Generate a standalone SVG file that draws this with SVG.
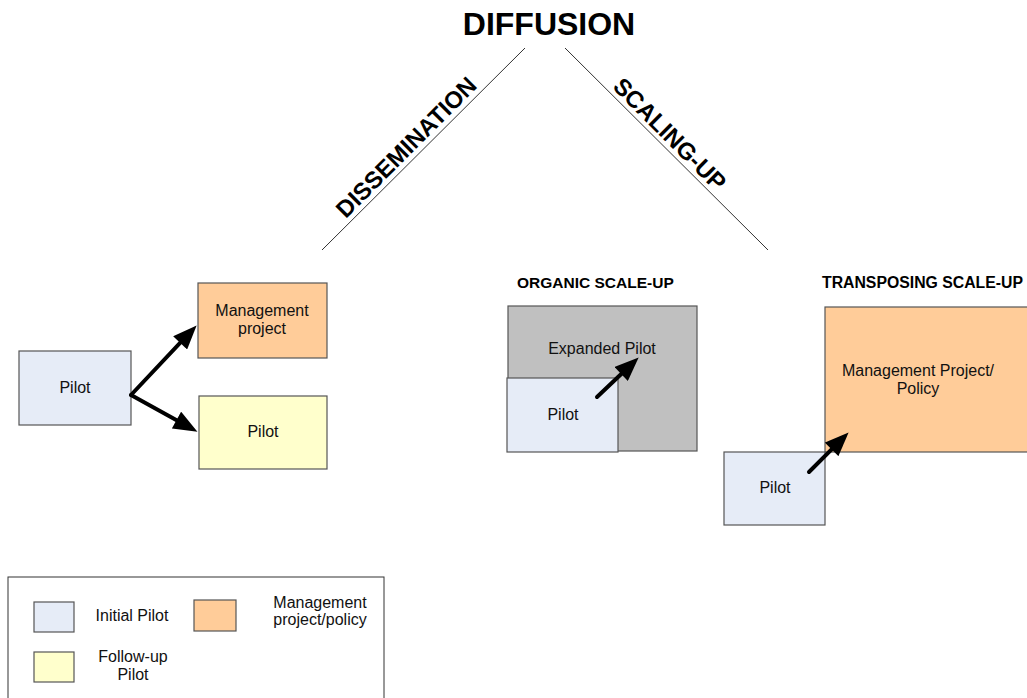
<svg xmlns="http://www.w3.org/2000/svg" width="1027" height="698" viewBox="0 0 1027 698">
<style>
.t{font-family:"Liberation Sans",Arial,sans-serif;font-size:16px;fill:#111;text-anchor:middle}
.b{font-family:"Liberation Sans",Arial,sans-serif;font-weight:bold;fill:#000}
.box{stroke:#555;stroke-width:1.2}
.blue{fill:#E6ECF7}.orange{fill:#FFCC99}.yellow{fill:#FFFFCC}.grey{fill:#C0C0C0}
.arr{stroke:#000;stroke-width:4;fill:none;stroke-linecap:round;marker-end:url(#ah)}
.thin{stroke:#333;stroke-width:1;fill:none}
</style>
<defs>
<marker id="ah" viewBox="0 0 10 8" markerWidth="6.2" markerHeight="4.8" refX="4.4" refY="4" orient="auto" markerUnits="strokeWidth">
<path d="M0,0 L10,4 L0,8 z" fill="#000"/>
</marker>
</defs>
<rect width="1027" height="698" fill="#fff"/>
<g id="title">
<text class="b" x="549" y="35" font-size="32" text-anchor="middle">DIFFUSION</text>
<line class="thin" x1="525" y1="48" x2="322" y2="250"/>
<line class="thin" x1="565" y1="48" x2="768" y2="250"/>
<text class="b" x="412" y="153" font-size="23.8" text-anchor="middle" transform="rotate(-45 412 153)">DISSEMINATION</text>
<text class="b" x="664" y="140" font-size="23.8" text-anchor="middle" transform="rotate(45 664 140)">SCALING-UP</text>
</g>
<g id="pilot-left"><rect class="box blue" x="19" y="351" width="112" height="74"/><text class="t" x="75" y="393">Pilot</text></g>
<g id="mgmt-left"><rect class="box orange" x="198" y="283" width="129" height="75"/><text class="t" x="262" y="316">Management</text><text class="t" x="262" y="334">project</text></g>
<g id="pilot-follow"><rect class="box yellow" x="199" y="396" width="128" height="73"/><text class="t" x="263" y="437">Pilot</text></g>
<g id="organic">
<text class="b" x="517" y="288" font-size="15.5">ORGANIC SCALE-UP</text>
<g id="expanded"><rect class="box grey" x="508" y="306" width="189" height="145"/><text class="t" x="602" y="354">Expanded Pilot</text></g>
<g id="pilot-organic"><rect class="box blue" x="507" y="378" width="111" height="74"/><text class="t" x="563" y="420">Pilot</text></g>
</g>
<g id="transposing">
<text class="b" x="822" y="288" font-size="15.8">TRANSPOSING SCALE-UP</text>
<g id="mgmt-policy"><rect class="box orange" x="825" y="307" width="210" height="145"/><text class="t" x="918" y="376">Management Project/</text><text class="t" x="918" y="394">Policy</text></g>
<g id="pilot-trans"><rect class="box blue" x="724" y="452" width="101" height="73"/><text class="t" x="775" y="493">Pilot</text></g>
</g>
<g id="connectors">
<line class="arr" x1="131" y1="395" x2="187.4" y2="335.2"/>
<line class="arr" x1="131" y1="395" x2="185.7" y2="425.2"/>
<line class="arr" x1="597" y1="397" x2="628.9" y2="366.7"/>
<line class="arr" x1="809" y1="472" x2="839.1" y2="441.9"/>
</g>
<g id="legend">
<rect x="8" y="577" width="376" height="130" fill="#fff" stroke="#333" stroke-width="1"/>
<rect class="box blue" x="34" y="602" width="40" height="30"/>
<text class="t" x="132" y="621">Initial Pilot</text>
<rect class="box orange" x="194" y="600" width="42" height="31"/>
<text class="t" x="320" y="608">Management</text>
<text class="t" x="320" y="625">project/policy</text>
<rect class="box yellow" x="34" y="652" width="40" height="30"/>
<text class="t" x="133" y="662">Follow-up</text>
<text class="t" x="133" y="680">Pilot</text>
</g>
</svg>
